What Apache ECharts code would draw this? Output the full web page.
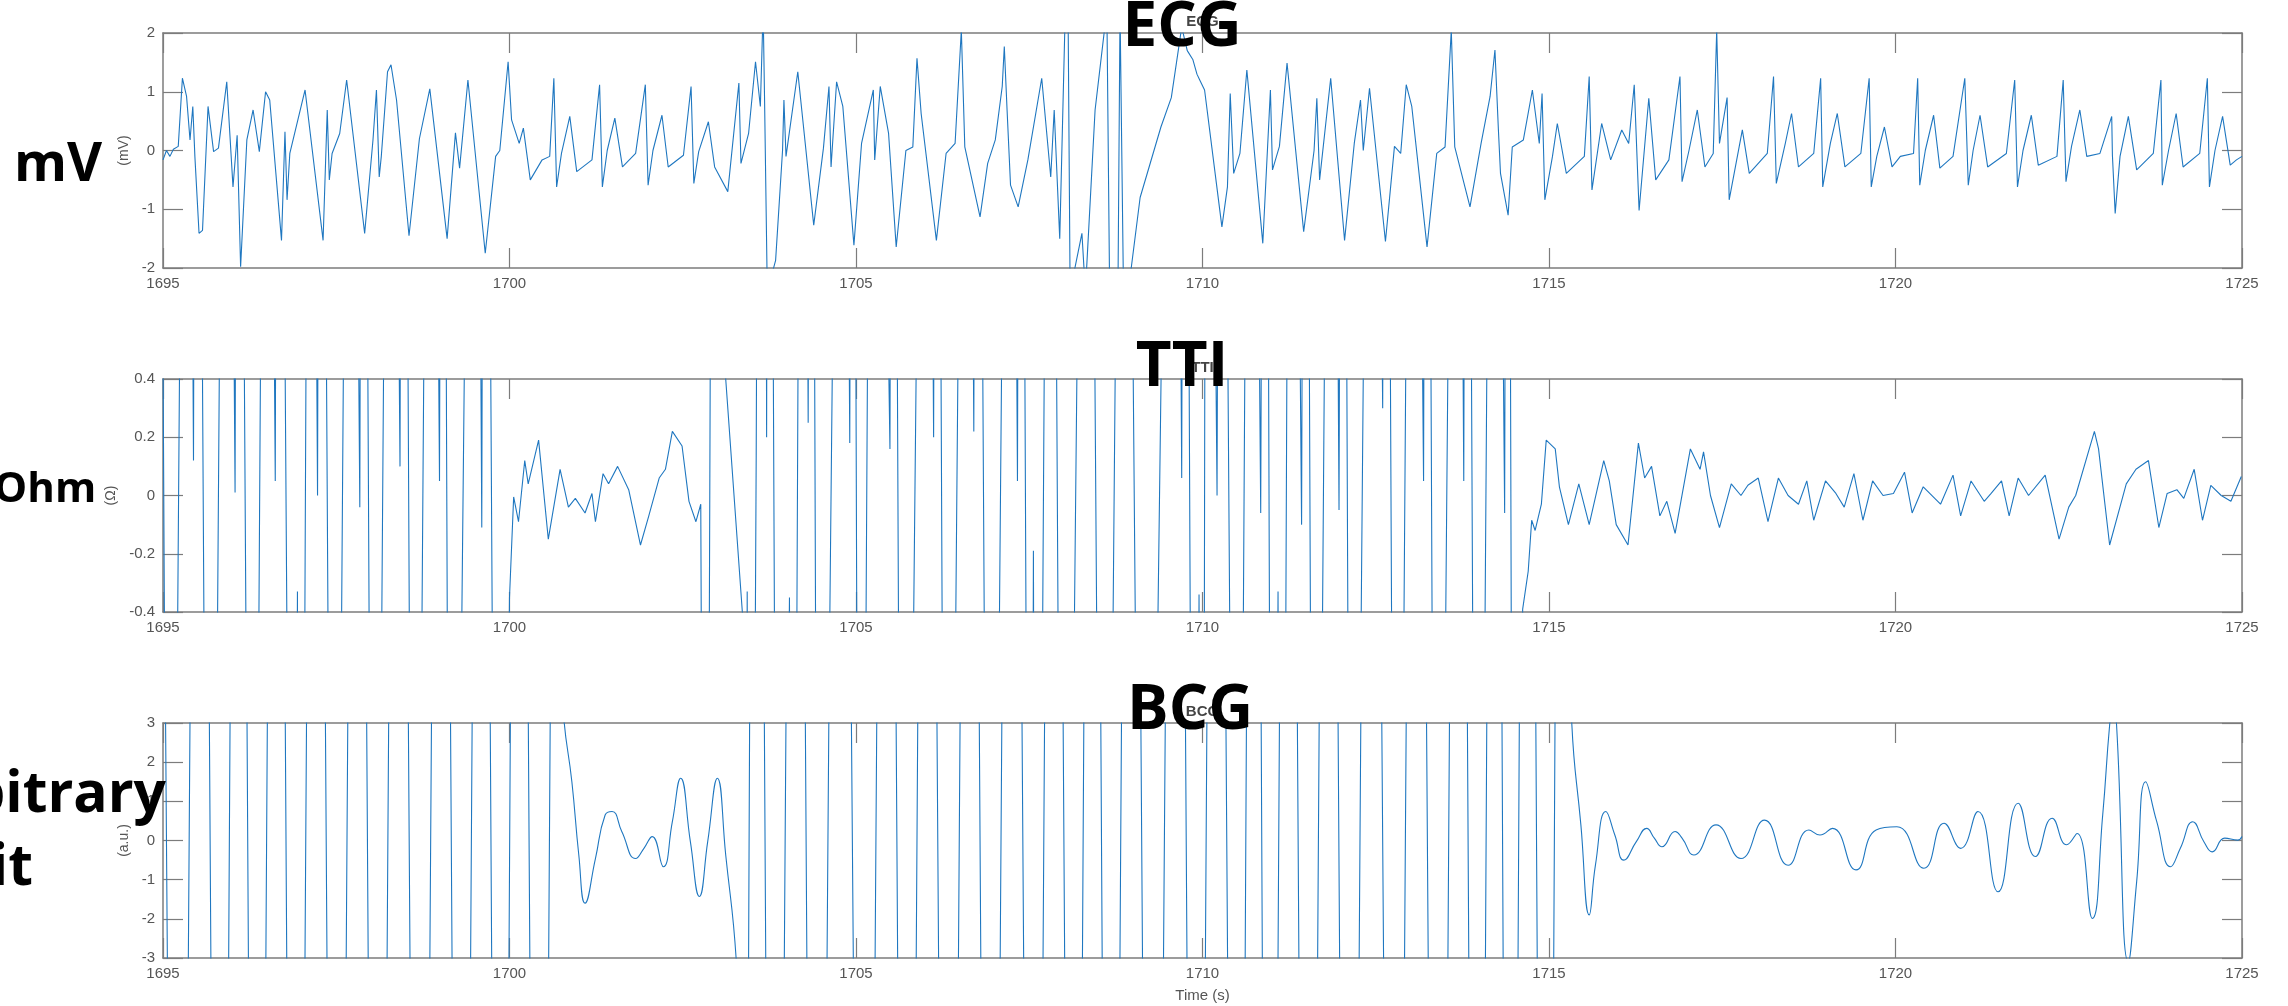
<!DOCTYPE html>
<html>
<head>
<meta charset="utf-8">
<script src="https://cdn.jsdelivr.net/npm/echarts@6/dist/echarts.min.js"></script>
<style>
  html, body { margin: 0; padding: 0; background: #fff }
  #chart { width: 2288px; height: 1006px }
</style>
</head>
<body>
<div id="chart"></div>
<script>
// time axis shared by the three panels
const timeRange = [1695, 1725]
const timeStep = 5

// per-panel axis setup
const panelTitles = ['ECG', 'TTI', 'BCG']
const unitNames = ['(mV)', '(Ω)', '(a.u.)']
const yMin = [-2, -0.4, -3]
const yMax = [2, 0.4, 3]
const yStep = [1, 0.2, 1]
const sideLabels = ['mV', 'Ohm', 'Arbitrary', 'unit']

// ECG trace, [time s, mV]
const ecgData = [
  [1695.00,-0.16],[1695.05,0.0],[1695.10,-0.1],[1695.15,0.02],[1695.22,0.07],[1695.28,1.23],[1695.34,0.92],[1695.39,0.18],
  [1695.43,0.75],[1695.46,-0.1],[1695.52,-1.41],[1695.57,-1.36],[1695.65,0.75],[1695.73,-0.02],[1695.80,0.04],[1695.92,1.17],
  [1696.01,-0.62],[1696.07,0.26],[1696.12,-1.98],[1696.21,0.18],[1696.30,0.69],[1696.39,-0.02],[1696.48,1.0],[1696.54,0.86],
  [1696.71,-1.53],[1696.76,0.32],[1696.79,-0.84],[1696.83,-0.05],[1697.05,1.03],[1697.31,-1.53],[1697.37,0.69],[1697.40,-0.5],
  [1697.44,-0.05],[1697.55,0.29],[1697.65,1.2],[1697.91,-1.41],[1698.03,0.18],[1698.08,1.03],[1698.12,-0.45],[1698.15,-0.1],
  [1698.24,1.34],[1698.29,1.46],[1698.37,0.86],[1698.55,-1.45],[1698.70,0.2],[1698.85,1.05],[1699.10,-1.5],[1699.22,0.3],
  [1699.28,-0.3],[1699.40,1.2],[1699.65,-1.75],[1699.80,-0.1],[1699.86,0.0],[1699.98,1.51],[1700.03,0.52],[1700.14,0.12],
  [1700.20,0.38],[1700.30,-0.5],[1700.47,-0.16],[1700.58,-0.1],[1700.64,1.23],[1700.68,-0.62],[1700.75,-0.05],[1700.87,0.58],
  [1700.97,-0.36],[1701.19,-0.16],[1701.30,1.12],[1701.34,-0.62],[1701.41,0],[1701.52,0.55],[1701.63,-0.28],[1701.82,-0.05],
  [1701.96,1.12],[1702.00,-0.59],[1702.07,0],[1702.20,0.6],[1702.29,-0.28],[1702.51,-0.08],[1702.62,1.09],[1702.66,-0.56],
  [1702.73,-0.02],[1702.87,0.49],[1702.96,-0.28],[1703.15,-0.7],[1703.31,1.15],[1703.34,-0.22],[1703.45,0.29],[1703.55,1.51],
  [1703.62,0.75],[1703.66,2.4],[1703.68,0.92],[1703.72,-2.4],[1703.84,-1.87],[1703.94,0],[1703.96,0.86],[1703.99,-0.1],
  [1704.16,1.34],[1704.39,-1.27],[1704.53,0.04],[1704.61,1.09],[1704.64,-0.28],[1704.72,1.17],[1704.81,0.75],[1704.97,-1.61],
  [1705.08,0.12],[1705.25,1.03],[1705.27,-0.16],[1705.35,1.09],[1705.47,0.29],[1705.58,-1.64],[1705.72,0],[1705.82,0.06],
  [1705.88,1.57],[1705.94,0.63],[1706.16,-1.53],[1706.30,-0.05],[1706.43,0.12],[1706.52,2.05],[1706.57,0.06],[1706.79,-1.13],
  [1706.90,-0.22],[1707.01,0.18],[1707.11,1.09],[1707.14,1.77],[1707.18,0.69],[1707.23,-0.59],[1707.34,-0.96],[1707.48,-0.16],
  [1707.68,1.23],[1707.81,-0.45],[1707.86,0.69],[1707.94,-1.5],[1708.02,2.4],[1708.06,2.4],[1708.09,-2.4],[1708.26,-1.41],
  [1708.31,-2.4],[1708.45,0.69],[1708.62,2.4],[1708.66,-2.4],[1708.78,-2.4],[1708.81,2.4],[1708.86,-2.4],[1708.95,-2.2],
  [1709.10,-0.8],[1709.25,-0.2],[1709.40,0.4],[1709.55,0.9],[1709.70,2.1],[1709.78,1.7],[1709.86,1.55],[1709.92,1.3],
  [1709.96,1.2],[1710.03,1.03],[1710.28,-1.3],[1710.36,-0.62],[1710.40,0.97],[1710.45,-0.39],[1710.54,-0.05],[1710.64,1.37],
  [1710.87,-1.58],[1710.98,1.03],[1711.01,-0.33],[1711.11,0.07],[1711.22,1.49],[1711.46,-1.38],[1711.61,0],[1711.65,0.89],
  [1711.69,-0.5],[1711.85,1.23],[1712.05,-1.53],[1712.19,0.12],[1712.28,0.86],[1712.32,0],[1712.41,1.06],[1712.64,-1.55],
  [1712.77,0.07],[1712.86,-0.05],[1712.94,1.12],[1713.02,0.75],[1713.24,-1.64],[1713.38,-0.05],[1713.50,0.06],[1713.59,2.05],
  [1713.64,0.06],[1713.86,-0.96],[1714.02,0.12],[1714.15,0.92],[1714.22,1.71],[1714.27,0.35],[1714.30,-0.39],[1714.41,-1.1],
  [1714.47,0.06],[1714.63,0.18],[1714.76,1.03],[1714.86,0.12],[1714.90,0.97],[1714.94,-0.84],[1715.05,-0.1],[1715.12,0.46],
  [1715.25,-0.39],[1715.51,-0.1],[1715.58,1.26],[1715.62,-0.67],[1715.76,0.46],[1715.89,-0.16],[1716.05,0.35],[1716.15,0.12],
  [1716.23,1.12],[1716.30,-1.02],[1716.44,0.89],[1716.54,-0.5],[1716.73,-0.16],[1716.89,1.26],[1716.92,-0.53],[1717.02,0],
  [1717.14,0.69],[1717.25,-0.28],[1717.37,-0.05],[1717.42,2.05],[1717.46,0.12],[1717.57,0.9],[1717.60,-0.84],[1717.79,0.35],
  [1717.89,-0.39],[1718.15,-0.05],[1718.24,1.26],[1718.28,-0.56],[1718.41,0.12],[1718.50,0.63],[1718.60,-0.28],[1718.82,-0.05],
  [1718.92,1.23],[1718.95,-0.62],[1719.06,0.12],[1719.16,0.63],[1719.27,-0.28],[1719.50,-0.05],[1719.62,1.23],[1719.65,-0.62],
  [1719.73,-0.1],[1719.84,0.4],[1719.95,-0.28],[1720.07,-0.1],[1720.26,-0.05],[1720.32,1.23],[1720.35,-0.59],[1720.43,0],
  [1720.55,0.6],[1720.64,-0.3],[1720.83,-0.1],[1721.00,1.23],[1721.05,-0.59],[1721.12,0],[1721.22,0.6],[1721.33,-0.28],
  [1721.60,-0.05],[1721.72,1.2],[1721.76,-0.62],[1721.84,0],[1721.96,0.6],[1722.06,-0.25],[1722.33,-0.1],[1722.42,1.2],
  [1722.46,-0.53],[1722.54,0.07],[1722.66,0.69],[1722.76,-0.1],[1722.95,-0.05],[1723.12,0.58],[1723.13,-0.08],[1723.17,-1.07],
  [1723.24,-0.1],[1723.36,0.58],[1723.48,-0.33],[1723.72,-0.05],[1723.83,1.2],[1723.85,-0.59],[1723.94,0],[1724.05,0.63],
  [1724.15,-0.28],[1724.39,-0.05],[1724.50,1.23],[1724.53,-0.62],[1724.61,0],[1724.72,0.58],[1724.83,-0.25],[1724.92,-0.16],
  [1725.00,-0.1]
]

// TTI trace, [time s, ohm]; +-4 stands for the saturated swings that leave the plot
const ttiData = [
  [1695.00,0.5],[1695.10,-4],[1695.35,4],[1695.44,0.12],[1695.48,4],[1695.68,-4],[1695.92,4],[1696.04,0.01],[1696.08,4],
  [1696.29,-4],[1696.50,4],[1696.62,0.05],[1696.66,4],[1696.89,-4],[1696.94,-0.33],[1696.98,-4],[1697.13,4],[1697.23,0.0],
  [1697.27,4],[1697.47,-4],[1697.71,4],[1697.84,-0.04],[1697.88,4],[1698.05,-4],[1698.29,4],[1698.42,0.1],[1698.46,4],
  [1698.63,-4],[1698.87,4],[1698.99,0.05],[1699.03,4],[1699.16,-4],[1699.50,4],[1699.60,-0.11],[1699.64,4],[1699.84,-4],
  [1699.98,-0.9],[1700.00,-0.35],[1700.06,-0.005],[1700.13,-0.09],[1700.22,0.12],[1700.27,0.04],[1700.42,0.19],[1700.56,-0.15],
  [1700.73,0.09],[1700.85,-0.04],[1700.95,-0.01],[1701.09,-0.06],[1701.19,0.007],[1701.24,-0.09],[1701.35,0.075],[1701.43,0.04],
  [1701.56,0.1],[1701.72,0.02],[1701.89,-0.17],[1702.01,-0.07],[1702.16,0.06],[1702.25,0.09],[1702.35,0.22],[1702.49,0.17],
  [1702.59,-0.02],[1702.69,-0.09],[1702.76,-0.03],[1702.83,-4],[1702.95,4],[1703.12,0.4],[1703.36,-0.4],[1703.40,-4],
  [1703.43,-0.33],[1703.47,-4],[1703.56,0.14],[1703.62,4],[1703.68,4],[1703.71,0.2],[1703.74,4],[1703.89,-4],[1704.04,-0.35],
  [1704.08,-4],[1704.23,4],[1704.31,0.25],[1704.35,4],[1704.47,-4],[1704.81,4],[1704.91,0.18],[1704.95,4],[1705.06,-4],
  [1705.25,4],[1705.49,0.16],[1705.53,4],[1705.68,-4],[1706.02,4],[1706.12,0.2],[1706.16,4],[1706.31,-4],[1706.60,4],
  [1706.70,0.22],[1706.74,4],[1706.94,-4],[1707.23,4],[1707.33,0.05],[1707.37,4],[1707.52,-4],[1707.56,-0.19],[1707.60,-4],
  [1707.81,4],[1708.00,-4],[1708.34,4],[1708.58,-4],[1708.87,4],[1709.16,-4],[1709.60,4],[1709.70,0.06],[1709.74,4],
  [1709.89,-4],[1709.95,-0.34],[1710.00,-4],[1710.06,4],[1710.21,0.0],[1710.26,4],[1710.50,-4],[1710.70,4],[1710.84,-0.06],
  [1710.90,4],[1711.02,-4],[1711.09,-0.33],[1711.14,-4],[1711.28,4],[1711.43,-0.1],[1711.48,4],[1711.62,-4],[1711.87,4],
  [1711.97,-0.05],[1712.02,4],[1712.16,-4],[1712.45,4],[1712.60,0.3],[1712.64,4],[1712.80,-4],[1713.04,4],[1713.19,0.05],
  [1713.23,4],[1713.38,-4],[1713.67,4],[1713.77,0.05],[1713.81,4],[1713.97,-4],[1714.21,4],[1714.36,-0.06],[1714.40,4],
  [1714.50,-4],[1714.62,-0.39],[1714.70,-0.26],[1714.75,-0.085],[1714.80,-0.12],[1714.89,-0.03],[1714.96,0.19],[1715.09,0.16],
  [1715.15,0.03],[1715.28,-0.1],[1715.43,0.04],[1715.58,-0.1],[1715.79,0.12],[1715.87,0.05],[1715.97,-0.1],[1716.14,-0.17],
  [1716.29,0.18],[1716.38,0.06],[1716.48,0.1],[1716.60,-0.07],[1716.70,-0.02],[1716.82,-0.13],[1717.04,0.16],[1717.18,0.09],
  [1717.23,0.15],[1717.33,0],[1717.46,-0.11],[1717.63,0.04],[1717.77,0],[1717.87,0.035],[1718.02,0.06],[1718.16,-0.09],
  [1718.31,0.06],[1718.45,0],[1718.60,-0.03],[1718.72,0.05],[1718.82,-0.085],[1718.99,0.05],[1719.14,0.007],[1719.26,-0.04],
  [1719.40,0.075],[1719.53,-0.085],[1719.67,0.05],[1719.82,0],[1719.97,0.007],[1720.13,0.08],[1720.24,-0.06],[1720.40,0.03],
  [1720.65,-0.03],[1720.83,0.07],[1720.94,-0.07],[1721.09,0.05],[1721.28,-0.02],[1721.38,0.007],[1721.53,0.05],[1721.64,-0.07],
  [1721.77,0.06],[1721.92,0],[1722.16,0.07],[1722.36,-0.15],[1722.50,-0.04],[1722.60,0],[1722.87,0.22],[1722.93,0.16],
  [1723.09,-0.17],[1723.33,0.04],[1723.47,0.09],[1723.65,0.12],[1723.80,-0.11],[1723.92,0.007],[1724.06,0.02],[1724.16,-0.01],
  [1724.31,0.09],[1724.43,-0.085],[1724.55,0.035],[1724.70,0],[1724.84,-0.02],[1724.99,0.065]
]

// BCG trace, [time s, a.u.]; the saturated parts swing far outside +-3
const bcgSatA = [
  [1694.88,40],[1695.22,-40],[1695.535,40],[1695.825,-40],[1696.09,40],[1696.355,-40],[1696.635,40],[1696.915,-40],
  [1697.205,40],[1697.505,-40],[1697.805,40],[1698.095,-40],[1698.395,40],[1698.71,-40],[1699.015,40],[1699.305,-40],
  [1699.595,40],[1699.87,-40],[1700.135,40],[1700.43,-40],[1700.62,12]
]
const bcgCalmA = [
  [1700.70,6],[1700.78,3.2],[1700.90,1.5],[1701.00,-0.37],[1701.09,-1.6],[1701.24,-0.46],[1701.38,0.65],[1701.48,0.74],
  [1701.62,0.23],[1701.82,-0.46],[1701.94,-0.2],[1702.06,0.1],[1702.22,-0.67],[1702.35,0.48],[1702.47,1.59],[1702.61,-0.03],
  [1702.74,-1.43],[1702.86,-0.03],[1703.00,1.59],[1703.12,-0.37],[1703.27,-3.0],[1703.33,-6]
]
const bcgSatB = [
  [1703.30,-6],[1703.36,-40],[1703.555,40],[1703.82,-40],[1704.135,40],[1704.425,-40],[1704.765,40],[1705.13,-40],
  [1705.445,40],[1705.735,-40],[1706.025,40],[1706.335,-40],[1706.645,40],[1706.935,-40],[1707.25,40],[1707.565,-40],
  [1707.855,40],[1708.145,-40],[1708.41,40],[1708.675,-40],[1708.965,40],[1709.28,-40],[1709.62,40],[1709.91,-40],
  [1710.195,40],[1710.505,-40],[1710.745,40],[1710.965,-40],[1711.235,40],[1711.525,-40],[1711.82,40],[1712.115,-40],
  [1712.43,40],[1712.77,-40],[1713.085,40],[1713.405,-40],[1713.70,40],[1713.965,-40],[1714.22,40],[1714.44,-40],
  [1714.685,40],[1714.955,-40],[1715.20,40]
]
const bcgCalmB = [
  [1715.25,8],[1715.33,2.95],[1715.46,0.4],[1715.58,-1.9],[1715.67,-0.63],[1715.82,0.74],[1715.95,0.14],[1716.08,-0.5],
  [1716.26,-0.03],[1716.41,0.31],[1716.52,0.06],[1716.63,-0.16],[1716.82,0.23],[1716.92,0.06],[1717.09,-0.37],[1717.41,0.4],
  [1717.77,-0.46],[1718.11,0.52],[1718.45,-0.63],[1718.75,0.27],[1718.91,0.14],[1719.09,0.31],[1719.43,-0.75],[1719.72,0.27],
  [1720.02,0.35],[1720.41,-0.71],[1720.70,0.44],[1720.94,-0.2],[1721.19,0.74],[1721.48,-1.31],[1721.77,0.95],[1722.02,-0.41],
  [1722.26,0.57],[1722.47,-0.11],[1722.62,0.18],[1722.84,-1.99],[1722.99,0.65],[1723.09,2.95],[1723.14,3.6],[1723.19,2.95],
  [1723.36,-3.1],[1723.48,-1.05],[1723.61,1.5],[1723.77,0.48],[1723.97,-0.67],[1724.11,-0.2],[1724.29,0.48],[1724.45,-0.03],
  [1724.57,-0.29],[1724.75,0.06],[1724.94,0.01],[1725.00,0.1]
]

const LINE = '#1f77c0'
const AXIS = '#7c7c7c'
const LABEL = '#555'
const gridBoxes = [
  { left: 163, top: 33, width: 2079, height: 235 },
  { left: 163, top: 379, width: 2079, height: 233 },
  { left: 163, top: 723, width: 2079, height: 235 },
]

const chart = echarts.init(document.getElementById('chart'))

const xAxes = [], yAxes = []
gridBoxes.forEach((g, i) => {
  const boxLine = { show: true, onZero: false, lineStyle: { color: AXIS, width: 1.5 } }
  const tick = { show: true, inside: true, length: 20, lineStyle: { color: AXIS, width: 1.2 } }
  const xBase = { type: 'value', gridIndex: i, min: timeRange[0], max: timeRange[1], interval: timeStep,
    axisLine: boxLine, axisTick: tick, splitLine: { show: false } }
  xAxes.push({ ...xBase, position: 'bottom',
    axisLabel: { color: LABEL, fontSize: 15, fontFamily: 'Liberation Sans', margin: 8, formatter: v => String(v) },
    name: i === 2 ? 'Time (s)' : '', nameLocation: 'middle', nameGap: 30,
    nameTextStyle: { color: LABEL, fontSize: 15, fontFamily: 'Liberation Sans' } })
  xAxes.push({ ...xBase, position: 'top', axisLabel: { show: false } })
  const yBase = { type: 'value', gridIndex: i, min: yMin[i], max: yMax[i], interval: yStep[i],
    axisLine: boxLine, axisTick: tick, splitLine: { show: false } }
  yAxes.push({ ...yBase, position: 'left',
    axisLabel: { color: LABEL, fontSize: 15, fontFamily: 'Liberation Sans', margin: 8 },
    name: unitNames[i], nameLocation: 'middle', nameGap: 27, nameRotate: 90,
    nameTextStyle: { color: LABEL, fontSize: 14, fontFamily: 'Liberation Sans' } })
  yAxes.push({ ...yBase, position: 'right', axisLabel: { show: false } })
})

const trace = (data, panel, smooth) => ({
  type: 'line', data, xAxisIndex: panel * 2, yAxisIndex: panel * 2,
  showSymbol: false, smooth: smooth || false, clip: true,
  lineStyle: { color: LINE, width: 1.1 }, silent: true,
})

const bigFont = size => `bold ${size}px "Open Sans"`
const txt = (text, x, y, size, align, z, fill) => ({
  type: 'text', x, y, z: z || 100,
  style: { text, font: bigFont(size), fill: fill || '#000', textAlign: align || 'center', textVerticalAlign: 'middle',
    align: align || 'center', verticalAlign: 'middle' }
})

const graphics = []
// small axes titles sitting under the big labels
gridBoxes.forEach((g, i) => {
  graphics.push({ type: 'text', x: g.left + g.width / 2, y: g.top - 11, z: 50,
    style: { text: panelTitles[i], font: 'bold 15px "Liberation Sans"', fill: '#444',
      textAlign: 'center', textVerticalAlign: 'middle', align: 'center', verticalAlign: 'middle' } })
})
graphics.push(txt(panelTitles[0], 1182, 28, 62))
graphics.push(txt(panelTitles[1], 1182, 368, 62))
graphics.push(txt(panelTitles[2], 1190, 711, 62))
graphics.push(txt(sideLabels[0], 58, 166, 54))
graphics.push(txt(sideLabels[1], 45, 490, 42))
graphics.push(txt(sideLabels[2], 166, 796, 57, 'right'))
graphics.push(txt(sideLabels[3], 33, 869, 57, 'right'))

chart.setOption({
  backgroundColor: '#fff',
  animation: false,
  grid: gridBoxes,
  xAxis: xAxes,
  yAxis: yAxes,
  series: [
    trace(ecgData, 0),
    trace(ttiData, 1),
    trace(bcgSatA, 2),
    trace(bcgCalmA, 2, 0.5),
    trace(bcgSatB, 2),
    trace(bcgCalmB, 2, 0.5),
  ],
  graphic: graphics,
})
</script>
</body>
</html>
